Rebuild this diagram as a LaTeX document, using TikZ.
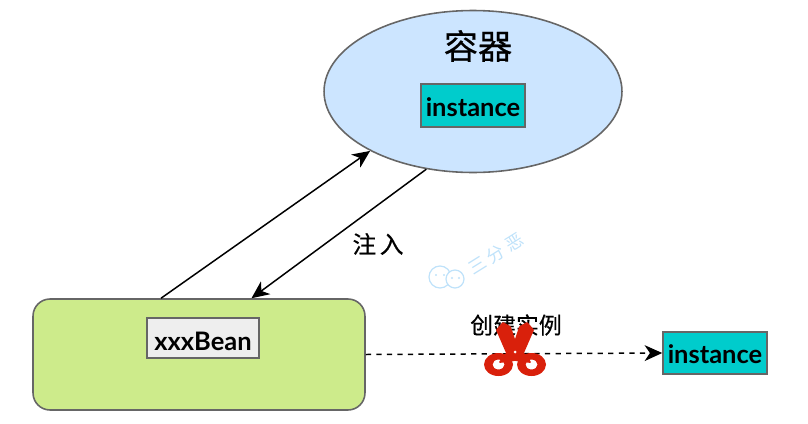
\documentclass[tikz,border=0pt]{standalone}
\usepackage{fontspec}
\setmainfont{Lato}
\newfontfamily\cjk[FakeBold=0.5]{Noto Sans CJK SC}
\usetikzlibrary{arrows.meta,shapes.geometric}
\definecolor{containerblue}{HTML}{CCE5FF}
\definecolor{beangreen}{HTML}{CDEB8B}
\definecolor{instcyan}{HTML}{00CCCC}
\definecolor{beangray}{HTML}{EEEEEE}
\definecolor{edgegray}{HTML}{666666}
\definecolor{scissorred}{HTML}{D9200B}
\definecolor{markblue}{HTML}{BFE2FA}
\tikzset{
  box/.style={draw=edgegray,line width=0.9pt,inner sep=0pt,align=center,font=\bfseries\fontsize{14.5}{15}\selectfont},
  instbox/.style={box,fill=instcyan,minimum width=2.08cm,minimum height=0.85cm,text height=15pt,text depth=3pt},
  flow/.style={-{Stealth[length=10pt,width=9pt,inset=3pt]},line width=0.85pt},
  blade/.style={fill=scissorred,draw=scissorred,line width=1pt,line join=round},
}
\begin{document}
\begin{tikzpicture}[x=0.02cm,y=-0.02cm]
  \useasboundingbox (0,0) rectangle (808,423);

  % the two big shapes
  \node[draw=edgegray,fill=containerblue,ellipse,line width=0.9pt,minimum width=5.96cm,minimum height=3.24cm,inner sep=0pt] (container) at (473,91.5) {};
  \node[draw=edgegray,fill=beangreen,rounded corners=0.34cm,line width=0.9pt,minimum width=6.64cm,minimum height=2.22cm,inner sep=0pt] (holder) at (199,354.5) {};

  \node[instbox] (instA) at (473,105.5) {instance};
  \node[box,fill=beangray,minimum width=2.24cm,minimum height=0.8cm,text height=16pt,text depth=2pt] (xxxBean) at (203,338) {xxxBean};
  \node[instbox] (instB) at (715,353) {instance};

  % labels
  \node[font=\cjk\fontsize{19.5}{20}\selectfont] (containerLabel) at (478,46) {容器};
  \node[font=\cjk\fontsize{13.5}{14}\selectfont] (injectLabel) at (378,244) {注\hspace{2pt}入};
  \node[font=\cjk\fontsize{13}{14}\selectfont] (createLabel) at (516,325) {创建实例};

  % connectors
  \draw[flow] (holder.124.4) -- (container.210);
  \draw[flow] (container.239.5) -- (holder.47.4);
  \draw[flow,dashed] (holder.east) -- (instB.west);

  % watermark
  \node[font=\fontspec{Noto Sans CJK SC}\fontsize{10}{10}\selectfont,text=markblue,rotate=32] (markText) at (496,254) {三\hspace{2.5pt}分\hspace{2.5pt}恶};
  \draw[markblue,line width=0.7pt] (440,277) circle (11);
  \draw[markblue,line width=0.7pt,fill=white] (455,279) circle (9);
  \fill[markblue] (436,275) circle (1.2) (444,275) circle (1.2) (452,278) circle (1.2) (459,278) circle (1.2);

  % scissors
  \filldraw[blade] (497,330) -- (503,323) -- (510,327) -- (515,342) -- (520,327) -- (527,323) -- (533,330) -- (523,353) -- (530,362) -- (515,360) -- (500,362) -- (507,353) -- cycle;
  \fill[scissorred,even odd rule] (498.5,364.5) ellipse (14.5 and 11.5) (498.5,364.5) ellipse (6 and 5);
  \fill[scissorred,even odd rule] (531.5,364.5) ellipse (14.5 and 11.5) (531.5,364.5) ellipse (6 and 5);
  \fill[white] (515,352) circle (1.5);
\end{tikzpicture}
\end{document}
